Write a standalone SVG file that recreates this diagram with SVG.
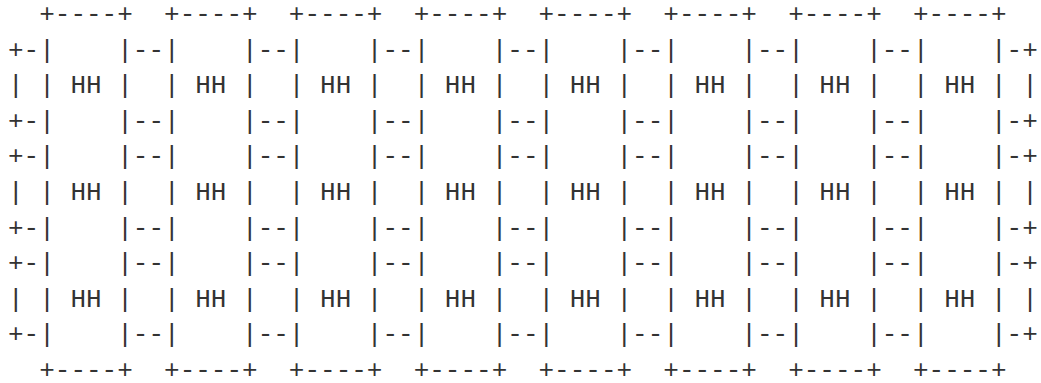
<svg xmlns="http://www.w3.org/2000/svg" width="1041" height="383" viewBox="0 0 1041 383">
<style>
text{font-family:"Liberation Mono","DejaVu Sans Mono",monospace;font-size:26px;fill:#333;white-space:pre}
</style>
<rect width="1041" height="383" fill="#fff"/>
<g id="ascii" xml:space="preserve">
<text x="8" y="22">  +----+  +----+  +----+  +----+  +----+  +----+  +----+  +----+</text>
<text x="8" y="57.6">+-|    |--|    |--|    |--|    |--|    |--|    |--|    |--|    |-+</text>
<text x="8" y="93.2">| | HH |  | HH |  | HH |  | HH |  | HH |  | HH |  | HH |  | HH | |</text>
<text x="8" y="128.8">+-|    |--|    |--|    |--|    |--|    |--|    |--|    |--|    |-+</text>
<text x="8" y="164.4">+-|    |--|    |--|    |--|    |--|    |--|    |--|    |--|    |-+</text>
<text x="8" y="200">| | HH |  | HH |  | HH |  | HH |  | HH |  | HH |  | HH |  | HH | |</text>
<text x="8" y="235.6">+-|    |--|    |--|    |--|    |--|    |--|    |--|    |--|    |-+</text>
<text x="8" y="271.2">+-|    |--|    |--|    |--|    |--|    |--|    |--|    |--|    |-+</text>
<text x="8" y="306.8">| | HH |  | HH |  | HH |  | HH |  | HH |  | HH |  | HH |  | HH | |</text>
<text x="8" y="342.4">+-|    |--|    |--|    |--|    |--|    |--|    |--|    |--|    |-+</text>
<text x="8" y="378">  +----+  +----+  +----+  +----+  +----+  +----+  +----+  +----+</text>
</g>
</svg>
